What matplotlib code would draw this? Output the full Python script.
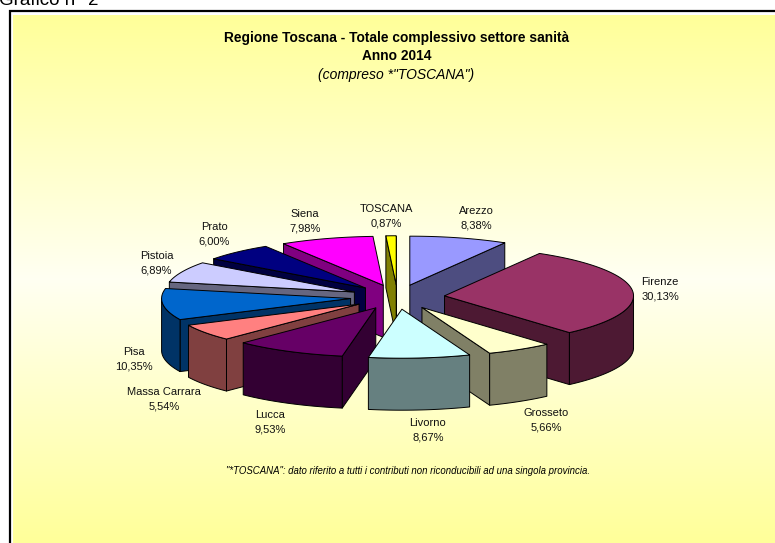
import numpy as np
import matplotlib
matplotlib.use('Agg')
from matplotlib import pyplot as plt
from matplotlib.patches import Polygon

plt.rcParams['font.family'] = ['Liberation Sans', 'DejaVu Sans']

province = ['Arezzo', 'Firenze', 'Grosseto', 'Livorno', 'Lucca', 'Massa Carrara',
            'Pisa', 'Pistoia', 'Prato', 'Siena', 'TOSCANA']
quote = [8.38, 30.13, 5.66, 8.67, 9.53, 5.54, 10.35, 6.89, 6.00, 7.98, 0.87]

top_colors = ['#9999FF', '#993366', '#FFFFCC', '#CCFFFF', '#660066', '#FF8080',
              '#0066CC', '#CCCCFF', '#000080', '#FF00FF', '#FFFF00']
side_colors = ['#4D4D80', '#4D1933', '#808066', '#668080', '#330033', '#804040',
               '#003366', '#666680', '#000040', '#800080', '#808000']

# label centres in pixels
label_pos = [(476.5, 218), (660, 289.5), (546.5, 420), (428, 430), (270, 422), (164, 399.5),
             (134, 359.5), (156.5, 263), (214, 234), (305, 221.5), (386, 216.5)]

# pie geometry in pixels
cx, cy = 397.5, 297
rx, ry = 189, 49
height = 52
explode = 0.25

fig = plt.figure(figsize=(7.75, 5.43), dpi=100)
ax = fig.add_axes([0, 0, 1, 1])
ax.set_xlim(0, 775)
ax.set_ylim(543, 0)
ax.axis('off')

# background gradient, yellow - pale - yellow
light = np.array([1.0, 1.0, 0.95])
yellow = np.array([1.0, 1.0, 0.6])
t = np.abs(np.linspace(-1, 1, 528)).reshape(-1, 1, 1)
grad = light + (yellow - light) * t
ax.imshow(grad, extent=(13, 775, 543, 15), aspect='auto', zorder=0)
ax.set_xlim(0, 775)
ax.set_ylim(543, 0)
ax.plot([9.7, 9.7, 775], [543, 11, 11], color='black', lw=1.6, zorder=1, solid_joinstyle='miter')


def rim(theta, ox, oy):
    return ox + rx * np.sin(theta), oy - ry * np.cos(theta)


def add_face(xs, ys, color):
    ax.add_patch(Polygon(np.column_stack([xs, ys]), closed=True, facecolor=color,
                         edgecolor='black', lw=0.7, joinstyle='round', zorder=2))


def draw_slice(start, end, top, side):
    mid = (start + end) / 2
    ox = cx + explode * rx * np.sin(mid)
    oy = cy - explode * ry * np.cos(mid)

    # radial walls which face the viewer
    if np.sin(start) < 0:
        x1, y1 = rim(start, ox, oy)
        add_face([ox, x1, x1, ox], [oy, y1, y1 + height, oy + height], side)
    if np.sin(end) > 0:
        x1, y1 = rim(end, ox, oy)
        add_face([ox, x1, x1, ox], [oy, y1, y1 + height, oy + height], side)

    # outer wall, only the front half of the ellipse
    a1, a2 = max(start, np.pi / 2), min(end, 3 * np.pi / 2)
    if a2 > a1:
        th = np.linspace(a1, a2, 80)
        x1, y1 = rim(th, ox, oy)
        add_face(np.r_[x1, x1[::-1]], np.r_[y1, y1[::-1] + height], side)

    th = np.linspace(start, end, 120)
    x1, y1 = rim(th, ox, oy)
    add_face(np.r_[ox, x1], np.r_[oy, y1], top)


angles = np.r_[0, np.cumsum(quote)] / sum(quote) * 2 * np.pi
mids = (angles[:-1] + angles[1:]) / 2
# back slices first
for i in np.argsort(-np.cos(mids)):
    draw_slice(angles[i], angles[i + 1], top_colors[i], side_colors[i])

for name, val, (x, y) in zip(province, quote, label_pos):
    txt = name + '\n' + f'{val:.2f}'.replace('.', ',') + '%'
    ax.text(x, y, txt, ha='center', va='center', fontsize=8, color='#111111',
            linespacing=1.55, zorder=5)

ax.text(396.5, 38, 'Regione Toscana - Totale complessivo settore sanità', ha='center', va='center',
        fontsize=9.9, fontweight='bold')
ax.text(396.5, 56.5, 'Anno 2014', ha='center', va='center', fontsize=9.9, fontweight='bold')
ax.text(396.5, 74.5, '(compreso *"TOSCANA")', ha='center', va='center', fontsize=10, style='italic')
ax.text(407.5, 471, '"*TOSCANA": dato riferito a tutti i contributi non riconducibili ad una singola provincia.',
        ha='center', va='center', fontsize=6.9, style='italic')
ax.text(-1, 5, 'Grafico n° 2', ha='left', va='baseline', fontsize=13.5, clip_on=True)

fig.savefig('out.png', dpi=100)
